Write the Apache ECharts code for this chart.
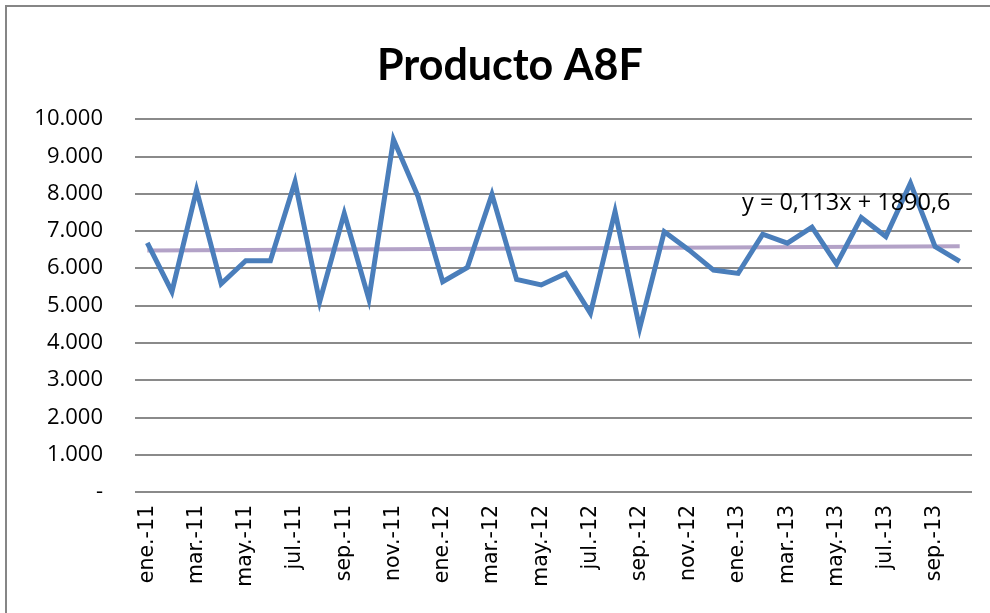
<!DOCTYPE html>
<html>
<head>
<meta charset="utf-8">
<script src="https://cdn.jsdelivr.net/npm/echarts@6/dist/echarts.min.js"></script>
<style>
  html, body { margin: 0; padding: 0; background: #fff; }
  #chart { width: 990px; height: 613px; }
</style>
</head>
<body>
<div id="chart"></div>
<script>
// months ene.-11 .. oct.-13
const months = [
  'ene.-11', 'feb.-11', 'mar.-11', 'abr.-11', 'may.-11', 'jun.-11',
  'jul.-11', 'ago.-11', 'sep.-11', 'oct.-11', 'nov.-11', 'dic.-11',
  'ene.-12', 'feb.-12', 'mar.-12', 'abr.-12', 'may.-12', 'jun.-12',
  'jul.-12', 'ago.-12', 'sep.-12', 'oct.-12', 'nov.-12', 'dic.-12',
  'ene.-13', 'feb.-13', 'mar.-13', 'abr.-13', 'may.-13', 'jun.-13',
  'jul.-13', 'ago.-13', 'sep.-13', 'oct.-13'
];

// units sold
const sales = [
  6680, 5370, 8100, 5580, 6200, 6200,
  8320, 5100, 7470, 5170, 9450, 7920,
  5640, 6020, 7980, 5700, 5550, 5860,
  4790, 7520, 4390, 6980, 6490, 5950,
  5860, 6910, 6670, 7100, 6110, 7360,
  6850, 8280, 6580, 6180
];

// linear trend (first and last month), y = 0,113x + 1890,6
const trendEnds = [6472, 6586];
const trendLabel = 'y = 0,113x + 1890,6';

const yTickLabels = ['-', '1.000', '2.000', '3.000', '4.000', '5.000',
  '6.000', '7.000', '8.000', '9.000', '10.000'];

const trend = months.map((m, i) =>
  i === 0 ? trendEnds[0] : (i === months.length - 1 ? trendEnds[1] : null));

const chart = echarts.init(document.getElementById('chart'), null, { renderer: 'canvas' });

chart.setOption({
  animation: false,
  backgroundColor: '#ffffff',
  title: {
    text: 'Producto A8F',
    left: 372,
    top: 40,
    textStyle: { fontFamily: 'Lato', fontSize: 43, fontWeight: 'bold', color: '#000' }
  },
  grid: { left: 135, right: 18, top: 119, bottom: 121 },
  xAxis: {
    type: 'category',
    data: months,
    boundaryGap: true,
    axisLine: { show: false },
    axisTick: { show: false },
    axisLabel: {
      rotate: 90,
      interval: 1,
      margin: 13,
      fontFamily: 'DejaVu Sans',
      fontSize: 20.5,
      color: '#000'
    }
  },
  yAxis: {
    type: 'value',
    min: 0,
    max: 10000,
    interval: 1000,
    axisLine: { show: false },
    axisTick: { show: false },
    splitLine: { lineStyle: { color: '#8a8a8a', width: 2 } },
    axisLabel: {
      margin: 32,
      fontFamily: 'Open Sans',
      fontSize: 22,
      color: '#000',
      formatter: v => yTickLabels[Math.round(v / 1000)]
    }
  },
  series: [
    {
      type: 'line',
      data: trend,
      connectNulls: true,
      symbol: 'none',
      lineStyle: { color: '#b3a2c7', width: 4 },
      z: 2
    },
    {
      type: 'line',
      data: sales,
      symbol: 'none',
      lineStyle: { color: '#4a7ebb', width: 5, join: 'miter' },
      z: 3
    }
  ],
  graphic: [
    {
      type: 'rect',
      shape: { x: 6, y: 6, width: 1100, height: 800 },
      style: { fill: 'none', stroke: '#868686', lineWidth: 2 },
      silent: true
    },
    {
      type: 'text',
      left: 742,
      top: 191,
      z: 10,
      style: {
        text: trendLabel,
        fontFamily: 'Open Sans',
        fontSize: 23.5,
        fill: '#000'
      }
    }
  ]
});
</script>
</body>
</html>
